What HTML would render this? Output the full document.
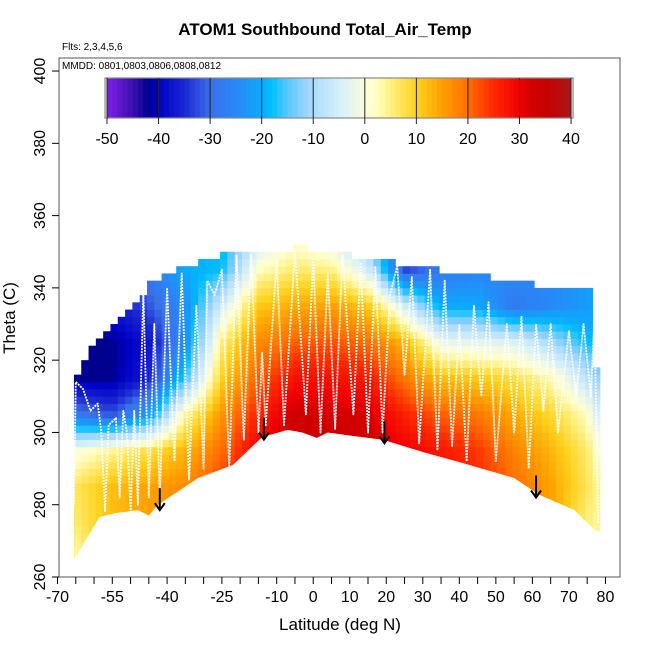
<!DOCTYPE html>
<html><head><meta charset="utf-8"><style>
body{margin:0;background:#fff}
svg{display:block;font-family:"Liberation Sans",sans-serif}
</style></head><body>
<svg id="c" width="650" height="650" viewBox="0 0 650 650"></svg>
<script>
// ---- data ----
const gridLats=[-65,-55,-45,-35,-25,-15,-5,5,15,25,35,45,55,65,75,80];
const gridThetas=[265,275,285,295,305,315,325,335,345,355];
const gridTemps=[
[3,6,7,0,-28,-42,-42,-40,-40,-40],
[12,12,12,4,-32,-42,-42,-38,-38,-38],
[15,15,15,8,-22,-36,-38,-32,-28,-28],
[18,18,17,13,4,-15,-24,-24,-20,-20],
[24,24,24,20,16,10,5,-5,-18,-20],
[30,30,30,30,26,21,17,11,2,-8],
[35,35,35,35,33,28,21,14,6,0],
[35,35,35,35,32,28,22,15,5,-5],
[33,33,33,33,32,27,20,11,-5,-15],
[30,30,30,30,26,19,13,-5,-33,-35],
[28,28,28,27,21,12,-2,-20,-28,-28],
[25,25,25,24,19,11,-3,-20,-26,-26],
[20,20,20,18,14,8,-4,-28,-25,-25],
[15,15,15,13,9,3,-10,-25,-25,-25],
[4,5,7,6,2,-8,-18,-22,-22,-22],
[2,3,2,-2,-10,-15,-20,-22,-22,-22]];
const columnTops=[316,320,323,326,328,330,332,334,336,338,342,342,344,344,346,346,346,348,348,348,
350,350,350,350,350,350,350,350,350,350,352,352,350,350,350,350,350,350,348,348,348,348,348,348,
346,346,346,346,346,346,344,344,344,344,344,344,344,342,342,342,342,342,342,340,340,340,340,340,340,340,340,318];
const floorLats=[-65.5,-58.5,-54,-48,-45,-42.5,-31.5,-22,-14,-7,-3,1,4,11,19,30,41,55,62,71.5,77,79.5];
const floorThetas=[264.7,276.6,277.7,278.5,277,280,287.4,291,298.7,300.7,300,298.5,300,299,298,294.6,291.5,287.4,282.7,278.5,273,272];
const trackLats=[-65.5,-65,-63,-61,-59,-58,-57,-56,-54,-53,-52,-51,-50,-49,-48,-46.5,-45,-43.5,-42,-40,-38,-36,-34,-32,-30,-29,-27,-25,-23,-21,-19,-17,-15,-14,-13,-10,-8,-5,-2,0,2,4,6,8,11,13,15,17,19,21,23,25,27,29,32,34,36,38,40,42,44,46,48,50,53,55,57,59,61,63,65,67,70,72,74,76,77,78];
const trackThetas=[280,314,312,306,308,300,278,302,304,282,306,300,278,306,280,339,282,330,282,340,292,344,287,335,290,342,338,345,290,349,298,349,300,322,302,348,302,350,305,348,300,344,301,349,305,347,300,346,300,338,346,316,343,297,345,295,342,296,330,292,335,310,336,292,330,300,332,290,330,306,330,300,328,310,330,310,332,275];
const arrowLats=[-42,-13.5,19.5,61];
const arrowThetas=[278.5,298,297,282];
const xTickLabels=[-70,-55,-40,-25,-10,0,10,20,30,40,50,60,70,80];
const yTickLabels=[260,280,300,320,340,360,380,400];
const cbarLabels=[-50,-40,-30,-20,-10,0,10,20,30,40];

// ---- scales ----
const X=l=>57.5+(l+70)*3.653;
const Y=t=>577-(t-260)*3.614;
const CB=v=>107+(v+50)*5.156;
const stops=[[-50,[127,32,232]],[-45,[60,16,176]],[-42,[0,0,143]],[-40,[0,0,200]],[-35,[26,40,208]],[-30,[58,112,232]],[-25,[40,136,248]],[-20,[10,170,252]],[-18,[0,192,255]],[-15,[90,200,255]],[-10,[175,218,255]],[-5,[210,240,250]],[0,[250,252,220]],[2,[255,255,200]],[5,[255,240,128]],[10,[255,210,30]],[15,[255,160,0]],[20,[255,110,0]],[25,[255,40,0]],[30,[240,0,0]],[32,[212,0,0]],[35,[200,0,0]],[40,[168,24,24]]];
function color(v){v=Math.max(-50,Math.min(40,v));
 for(let i=0;i<stops.length-1;i++){const a=stops[i],b=stops[i+1];
  if(v<=b[0]){const f=(v-a[0])/(b[0]-a[0]);const c=a[1].map((x,k)=>Math.round(x+(b[1][k]-x)*f));return `rgb(${c})`;}}
 return 'rgb(168,24,24)';}
function temp(lat,th){
 let i=0;while(i<gridLats.length-2&&lat>gridLats[i+1])i++;
 let j=0;while(j<gridThetas.length-2&&th>gridThetas[j+1])j++;
 let fx=(lat-gridLats[i])/(gridLats[i+1]-gridLats[i]);fx=Math.max(0,Math.min(1,fx));
 let fy=(th-gridThetas[j])/(gridThetas[j+1]-gridThetas[j]);fy=Math.max(0,Math.min(1,fy));
 const g=gridTemps;
 return (g[i][j]*(1-fx)+g[i+1][j]*fx)*(1-fy)+(g[i][j+1]*(1-fx)+g[i+1][j+1]*fx)*fy;}

const svg=document.getElementById('c');const NS='http://www.w3.org/2000/svg';
function el(tag,attrs,parent){const e=document.createElementNS(NS,tag);for(const k in attrs)e.setAttribute(k,attrs[k]);(parent||svg).appendChild(e);return e;}

const defs=el('defs',{});
const cp=el('clipPath',{id:'floor'},defs);
let pts=`${X(-65.5)},${Y(410)} `;
floorLats.forEach((l,k)=>{pts+=`${X(l)},${Y(floorThetas[k])} `;});
pts+=`${X(79.5)},${Y(410)}`;
el('polygon',{points:pts},cp);

const hm=el('g',{'clip-path':'url(#floor)'});


columnTops.forEach((top,i)=>{
 const lat=-64.5+2*i;
 for(let th=262;th<top;th+=2){
  const r=el('rect',{x:X(lat-1),y:Y(th+2),width:X(lat+1)-X(lat-1)+0.4,height:Y(th)-Y(th+2)+0.4,fill:color(temp(lat,th+1))},hm);
  
  
 }
});

const tr=el('polyline',{points:trackLats.map((l,k)=>`${X(l)},${Y(trackThetas[k])}`).join(' '),fill:'none',stroke:'#fff','stroke-width':1.8,'stroke-dasharray':'2 1','stroke-linejoin':'round'});



arrowLats.forEach((l,k)=>{
 const g=el('g',{stroke:'#000','stroke-width':2,fill:'none'});
 
 
 const x=X(l),y=Y(arrowThetas[k]);
 el('line',{x1:x,y1:y-22,x2:x,y2:y},g);
 el('polyline',{points:`${x-5},${y-7} ${x},${y} ${x+5},${y-7}`},g);
});

const fr=el('rect',{x:59,y:58,width:561,height:519,fill:'none',stroke:'#555','stroke-width':1});



const xa=el('g',{});


for(let l=-70;l<=84;l+=5){el('line',{x1:X(l),y1:577,x2:X(l),y2:584,stroke:'#000'},xa);}
xTickLabels.forEach(v=>{const t=el('text',{x:X(v),y:602,'text-anchor':'middle','font-size':16},xa);t.textContent=v;
 
 });
const ya=el('g',{});


yTickLabels.forEach(v=>{el('line',{x1:52,y1:Y(v),x2:59,y2:Y(v),stroke:'#000'},ya);
 const t=el('text',{x:0,y:0,transform:`translate(45,${Y(v)}) rotate(-90)`,'text-anchor':'middle','font-size':16},ya);t.textContent=v;
 
 });

const cb=el('g',{});


for(let v=-50;v<40;v+=1){el('rect',{x:CB(v),y:78,width:5.6,height:40,fill:color(v+0.5)},cb);}
el('rect',{x:CB(-50)-2,y:78,width:CB(40)-CB(-50)+4,height:40,fill:'none',stroke:'#888','stroke-width':1.2},cb);
cbarLabels.forEach(v=>{
 el('line',{x1:CB(v),y1:78,x2:CB(v),y2:124,stroke:'#222','stroke-width':1},cb);
 const t=el('text',{x:CB(v),y:144,'text-anchor':'middle','font-size':16},cb);t.textContent=v;
 
 
});
</script>
<div style="position:absolute;left:0;top:0;width:650px;height:650px;pointer-events:none;font-family:'Liberation Sans',sans-serif">
<div style="position:absolute;left:0;width:650px;top:20px;text-align:center;font-weight:bold;font-size:17px">ATOM1 Southbound Total_Air_Temp</div>
<div style="position:absolute;left:62px;top:42px;font-size:10px">Flts: 2,3,4,5,6</div>
<div style="position:absolute;left:62px;top:61px;font-size:10px">MMDD: 0801,0803,0806,0808,0812</div>
<div style="position:absolute;left:0;width:680px;top:615px;text-align:center;font-size:17px">Latitude (deg N)</div>
<div style="position:absolute;left:-40px;top:308px;width:100px;text-align:center;font-size:17px;transform:rotate(-90deg)">Theta (C)</div>
</div>
</body></html>
